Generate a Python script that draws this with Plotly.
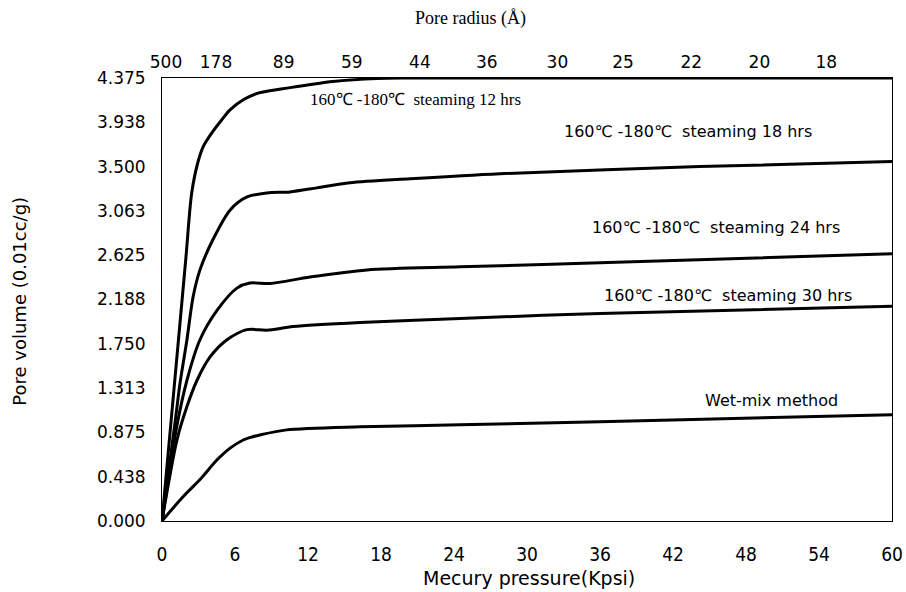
import plotly.graph_objects as go

# ---- data ----
x_12 = [0, 1.95, 2.44, 2.99, 3.40, 4.08, 4.90, 5.59, 6.68, 8.05, 10.52, 14.05, 17.67, 20.0, 60.0]
y_12 = [0, 2.58, 3.24, 3.56, 3.70, 3.83, 3.96, 4.06, 4.16, 4.23, 4.28, 4.34, 4.37, 4.375, 4.375]

x_18 = [0, 1.07, 1.48, 2.05, 2.55, 3.12, 4.19, 5.59, 6.99, 8.63, 10.52, 12.74, 15.45, 20.38, 27.78, 44.2, 60.0]
y_18 = [0, 0.97, 1.36, 1.79, 2.21, 2.48, 2.78, 3.07, 3.20, 3.24, 3.25, 3.29, 3.34, 3.38, 3.43, 3.50, 3.55]

x_24 = [0, 1.21, 2.05, 3.12, 4.52, 6.16, 7.23, 8.88, 12.16, 16.85, 24.5, 36.0, 60.0]
y_24 = [0, 0.93, 1.39, 1.79, 2.08, 2.30, 2.35, 2.345, 2.41, 2.48, 2.51, 2.55, 2.64]

x_30 = [0, 1.23, 2.05, 2.88, 3.95, 5.34, 6.99, 8.63, 10.77, 16.27, 24.5, 36.0, 60.0]
y_30 = [0, 0.80, 1.13, 1.39, 1.62, 1.79, 1.89, 1.885, 1.92, 1.96, 2.00, 2.05, 2.12]

x_wet = [0, 1.73, 3.2, 4.49, 5.6, 6.68, 7.4, 8.05, 10.25, 16.27, 24.5, 36.0, 60.0]
y_wet = [0, 0.24, 0.42, 0.60, 0.72, 0.80, 0.83, 0.85, 0.90, 0.93, 0.95, 0.98, 1.05]

series_names = ["160℃ -180℃  steaming 12 hrs", "160℃ -180℃  steaming 18 hrs",
                "160℃ -180℃  steaming 24 hrs", "160℃ -180℃  steaming 30 hrs",
                "Wet-mix method"]

x_tick_vals = [0, 6, 12, 18, 24, 30, 36, 42, 48, 54, 60]
x_tick_labels = ["0", "6", "12", "18", "24", "30", "36", "42", "48", "54", "60"]
y_tick_vals = [0, 0.4375, 0.875, 1.3125, 1.75, 2.1875, 2.625, 3.0625, 3.5, 3.9375, 4.375]
y_tick_labels = ["0.000", "0.438", "0.875", "1.313", "1.750", "2.188", "2.625",
                 "3.063", "3.500", "3.938", "4.375"]
top_tick_labels = ["500", "178", "89", "59", "44", "36", "30", "25", "22", "20", "18"]
top_tick_pos = [0.33, 4.44, 10.0, 15.6, 21.2, 26.7, 32.5, 37.9, 43.5, 49.1, 54.6]

SANS = "DejaVu Sans, Liberation Sans, Arial, sans-serif"
NARROW = "DejaVu Sans Condensed, Liberation Sans, sans-serif"
SERIF = "Liberation Serif, Times New Roman, serif"

fig = go.Figure()
for xs, ys, nm in [(x_12, y_12, series_names[0]), (x_18, y_18, series_names[1]),
                   (x_24, y_24, series_names[2]), (x_30, y_30, series_names[3]),
                   (x_wet, y_wet, series_names[4])]:
    fig.add_trace(go.Scatter(x=xs, y=ys, mode="lines", name=nm,
                             line=dict(color="black", width=3, shape="spline", smoothing=0.8),
                             showlegend=False, hoverinfo="skip"))

# invisible trace so the top axis is drawn
fig.add_trace(go.Scatter(x=[0, 60], y=[0, 0], xaxis="x2", mode="markers",
                         marker=dict(opacity=0), showlegend=False, hoverinfo="skip"))

fig.update_layout(
    width=906, height=592,
    margin=dict(l=162, r=14, t=78, b=71, autoexpand=False),
    paper_bgcolor="white", plot_bgcolor="white",
    xaxis=dict(range=[0, 60], tickvals=x_tick_vals, ticktext=x_tick_labels,
               showgrid=False, zeroline=False, showline=True, mirror=True,
               automargin=False,
               linecolor="black", linewidth=1, ticks="", ticklabelstandoff=16,
               tickfont=dict(family=NARROW, size=19, color="black")),
    xaxis2=dict(range=[0, 60], overlaying="x", side="top", tickvals=top_tick_pos,
                ticktext=top_tick_labels, showgrid=False, zeroline=False,
                automargin=False,
                showline=False, ticks="", ticklabelstandoff=6,
                tickfont=dict(family=SANS, size=17, color="black")),
    yaxis=dict(range=[0, 4.375], tickvals=y_tick_vals, ticktext=y_tick_labels,
               showgrid=False, zeroline=False, showline=True, mirror=True,
               automargin=False,
               linecolor="black", linewidth=1, ticks="", ticklabelstandoff=12,
               tickfont=dict(family=SANS, size=17, color="black")),
    showlegend=False,
)

annots = [
    dict(x=12.0, y=4.16, text=series_names[0], font=dict(family=SERIF, size=17, color="black")),
    dict(x=32.9, y=3.85, text=series_names[1], font=dict(family=SANS, size=16, color="black")),
    dict(x=35.2, y=2.90, text=series_names[2], font=dict(family=SANS, size=16, color="black")),
    dict(x=36.2, y=2.23, text=series_names[3], font=dict(family=SANS, size=16, color="black")),
    dict(x=44.5, y=1.19, text=series_names[4], font=dict(family=SANS, size=16, color="black")),
]
for a in annots:
    fig.add_annotation(xref="x", yref="y", xanchor="left", yanchor="middle",
                       showarrow=False, **a)

fig.add_annotation(xref="paper", yref="paper", x=0.422, y=1.135, xanchor="center",
                   yanchor="middle", showarrow=False, text="Pore radius (Å)",
                   font=dict(family=SERIF, size=18, color="black"))
fig.add_annotation(xref="paper", yref="paper", x=0.503, y=-0.129, xanchor="center",
                   yanchor="middle", showarrow=False, text="Mecury pressure(Kpsi)",
                   font=dict(family=SANS, size=19, color="black"))
fig.add_annotation(xref="paper", yref="paper", x=-0.1945, y=0.495, xanchor="center",
                   yanchor="middle", showarrow=False, text="Pore volume (0.01cc/g)",
                   textangle=-90, font=dict(family=SANS, size=18, color="black"))

fig.write_html("out.html", config={"displayModeBar": False},
               post_script="document.body.style.margin='0px';")
